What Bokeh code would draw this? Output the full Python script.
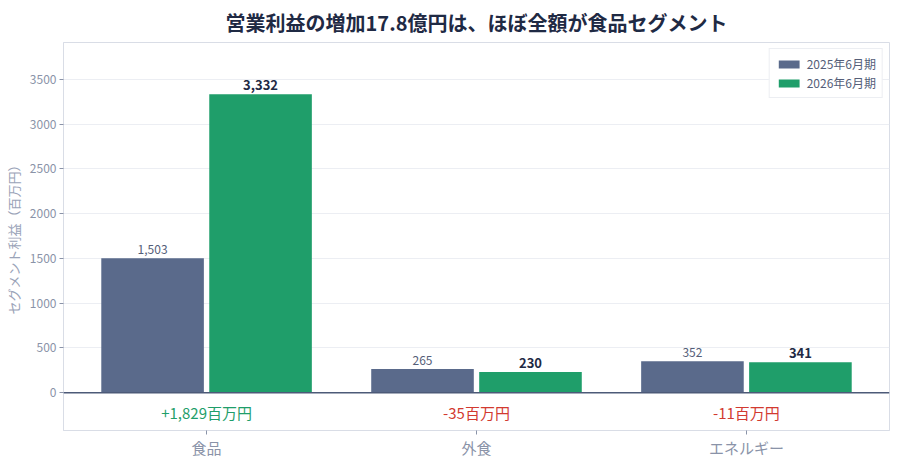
from bokeh.plotting import figure
from bokeh.models import ColumnDataSource, Span, Legend, LegendItem, FixedTicker, Range1d
from bokeh.core.properties import value
from bokeh.embed import file_html
from bokeh.resources import INLINE

categories = ["食品", "外食", "エネルギー"]
fy2025 = [1503, 265, 352]
fy2026 = [3332, 230, 341]
deltas = ["+1,829百万円", "-35百万円", "-11百万円"]
series_names = ["2025年6月期", "2026年6月期"]
y_ticks = [0, 500, 1000, 1500, 2000, 2500, 3000, 3500]

FONT = "Noto Sans CJK JP"
C25 = "#5a6a8b"
C26 = "#1f9e6a"
POS = "#1f9e6a"
NEG = "#d23a30"

xs = list(range(len(categories)))
x25 = [x - 0.2 for x in xs]
x26 = [x + 0.2 for x in xs]

p = figure(width=892, height=460, output_backend="svg", toolbar_location=None,
           x_range=Range1d(-0.53, 2.53), y_range=Range1d(-422, 3911),
           title="営業利益の増加17.8億円は、ほぼ全額が食品セグメント")
p.min_border_left = 63
p.min_border_right = 3
p.min_border_top = 0
p.min_border_bottom = 0

p.title.text_font = FONT
p.title.text_font_size = "20px"
p.title.text_font_style = "bold"
p.title.text_color = "#1f2a44"
p.title.align = "center"
p.title.offset = 0
p.title.standoff = 11

src25 = ColumnDataSource(dict(x=x25, top=fy2025, lab=[f"{v:,}" for v in fy2025]))
src26 = ColumnDataSource(dict(x=x26, top=fy2026, lab=[f"{v:,}" for v in fy2026]))
r25 = p.vbar(x="x", top="top", width=0.38, source=src25, color=C25, line_color=None)
r26 = p.vbar(x="x", top="top", width=0.38, source=src26, color=C26, line_color=None)

p.text(x="x", y="top", text="lab", source=src25, text_align="center", text_baseline="bottom",
       y_offset=-4, text_font=value(FONT), text_font_size="12px", text_color="#555e78")
p.text(x="x", y="top", text="lab", source=src26, text_align="center", text_baseline="bottom",
       y_offset=-4, text_font=value(FONT), text_font_size="13px", text_font_style="bold",
       text_color="#1f2a44")

dsrc = ColumnDataSource(dict(x=xs, y=[-222] * 3, t=deltas,
                             c=[POS if d.startswith("+") else NEG for d in deltas]))
p.text(x="x", y="y", text="t", source=dsrc, text_align="center", text_baseline="middle",
       text_font=value(FONT), text_font_size="15px", text_color="c")

p.add_layout(Span(location=0, dimension="width", line_color="#4d5a78", line_width=1.5))

p.xaxis.ticker = FixedTicker(ticks=xs)
p.xaxis.major_label_overrides = {i: c for i, c in enumerate(categories)}
p.yaxis.ticker = FixedTicker(ticks=y_ticks)
p.yaxis.axis_label = "セグメント利益（百万円）"
for ax in (p.xaxis, p.yaxis):
    ax.major_label_text_font = FONT
    ax.major_label_text_color = "#8a93a8"
    ax.axis_line_color = "#d9dde6"
    ax.major_tick_line_color = "#8a93a8"
    ax.minor_tick_line_color = None
    ax.major_tick_in = 0
    ax.major_tick_out = 4
    ax.axis_label_text_font = FONT
    ax.axis_label_text_color = "#9aa3b8"
    ax.axis_label_text_font_style = "normal"
p.xaxis.major_label_text_font_size = "15px"
p.xaxis.major_label_standoff = 2
p.yaxis.major_label_text_font_size = "12px"
p.yaxis.major_label_standoff = 3
p.yaxis.axis_label_text_font_size = "13px"
p.yaxis.axis_label_standoff = 4

p.xgrid.grid_line_color = None
p.ygrid.grid_line_color = "#eceef3"
p.outline_line_color = "#d9dde6"

legend = Legend(items=[LegendItem(label=series_names[0], renderers=[r25]),
                       LegendItem(label=series_names[1], renderers=[r26])],
                location="top_right")
legend.label_text_font = FONT
legend.label_text_font_size = "12px"
legend.label_text_color = "#555e78"
legend.border_line_color = "#d9dde6"
legend.glyph_width = 26
legend.glyph_height = 10
legend.spacing = 2
legend.padding = 6
legend.margin = 6
legend.label_height = 14
p.add_layout(legend)

open("out.html", "w").write(file_html(p, INLINE))
